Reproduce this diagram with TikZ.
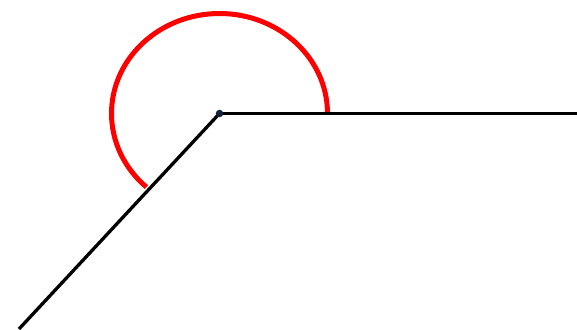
\documentclass[tikz,border=0pt]{standalone}
\usepackage{xcolor}
\usepackage{tikz}

\definecolor{dotblue}{rgb}{0.08,0.12,0.22}

\begin{document}
\begin{tikzpicture}[
    x=1pt, y=1pt,
    ray/.style={line width=3.3pt, black},
    anglearc/.style={line width=5pt, red},
    vtx/.style={circle, fill=dotblue, inner sep=0pt, minimum size=7.5pt}
]
\useasboundingbox (0,0) rectangle (577,329);
\coordinate (o) at (219.5,215.5);
\coordinate (p) at (577,215.5);
\coordinate (q) at (19,0);
\draw[anglearc] ([xshift=108pt]o) arc[start angle=0, end angle=227.4, x radius=108, y radius=100];
\draw[ray] (o) -- (p);
\draw[ray] (o) -- (q);
\node[vtx] (v) at (o) {};
\end{tikzpicture}
\end{document}
